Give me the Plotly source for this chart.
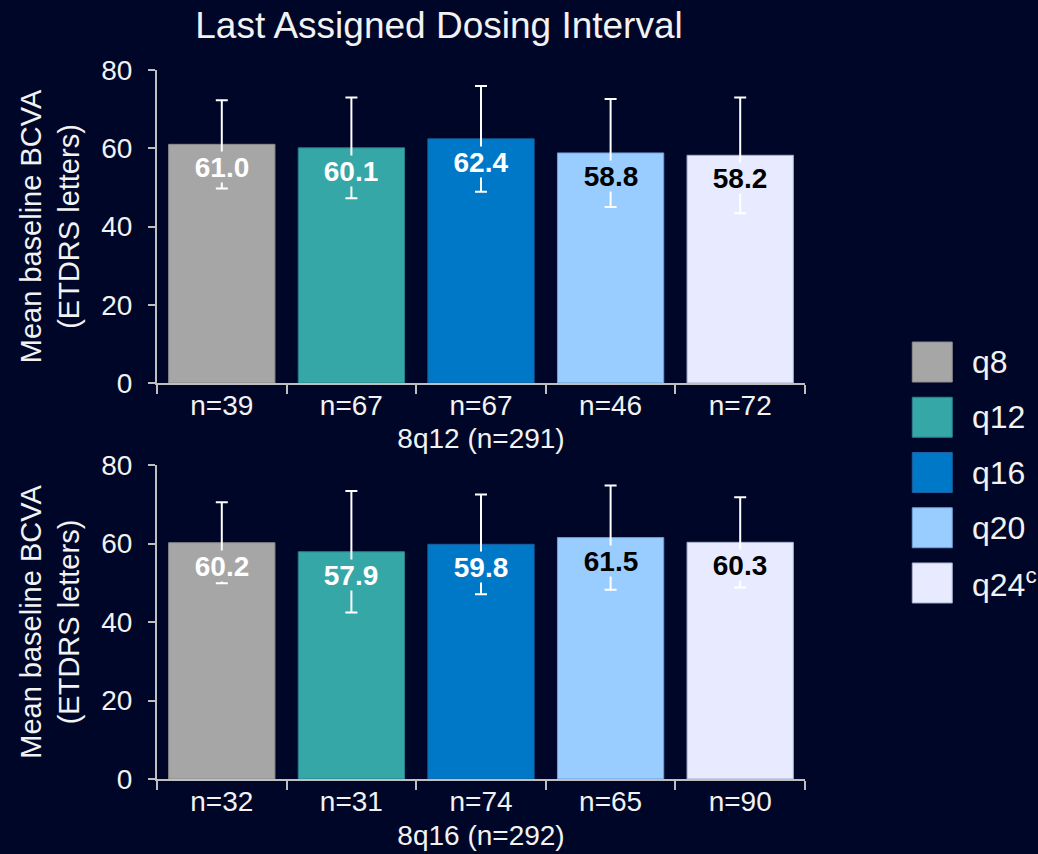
import plotly.graph_objects as go

# ---------------- data ----------------
categories = ["q8", "q12", "q16", "q20", "q24"]
legend_labels = ["q8", "q12", "q16", "q20", "q24<sup>c</sup>"]
n_8q12 = ["n=39", "n=67", "n=67", "n=46", "n=72"]
n_8q16 = ["n=32", "n=31", "n=74", "n=65", "n=90"]
mean_8q12 = [61.0, 60.1, 62.4, 58.8, 58.2]
sd_8q12 = [11.3, 12.9, 13.5, 13.8, 14.8]
mean_8q16 = [60.2, 57.9, 59.8, 61.5, 60.3]
sd_8q16 = [10.3, 15.5, 12.7, 13.3, 11.5]
group_titles = ["8q12 (n=291)", "8q16 (n=292)"]
y_ticks = [0, 20, 40, 60, 80]
chart_title = "Last Assigned Dosing Interval"

# ---------------- style ----------------
BG = "#000628"
FONT = "Liberation Sans, Arial, sans-serif"
TXT = "#f2f2f2"
AXIS = "#bfbfbf"
bar_colors = ["#a6a6a6", "#35a7a7", "#0078c8", "#99ccff", "#e8ebff"]
bar_edges = ["#8c8c8c", "#2b7f8f", "#1c5f9c", "#6f9fd0", "#a8b0cc"]
label_colors = ["#ffffff", "#ffffff", "#ffffff", "#000000", "#000000"]

fig = go.Figure()

panels = [
    ("x", "y", mean_8q12, sd_8q12, n_8q12, group_titles[0]),
    ("x2", "y2", mean_8q16, sd_8q16, n_8q16, group_titles[1]),
]

for xa, ya, means, sds, ns, gt in panels:
    fig.add_trace(go.Bar(
        x=categories, y=means, xaxis=xa, yaxis=ya,
        marker=dict(color=bar_colors, line=dict(color=bar_edges, width=1)),
        error_y=dict(type="data", array=sds, symmetric=True,
                     color="#ffffff", thickness=2, width=6),
        showlegend=False, hoverinfo="skip",
    ))
    for c, m, col, bc in zip(categories, means, label_colors, bar_colors):
        fig.add_annotation(
            x=c, y=m, xref=xa, yref=ya, text=f"<b>{m:.1f}</b>",
            showarrow=False, yanchor="middle", yshift=-23,
            font=dict(family=FONT, size=28, color=col),
            bgcolor=bc, borderpad=0, width=70, height=30,
        )

# legend built as markers on their own axes
fig.add_trace(go.Scatter(
    x=[0] * len(categories), y=categories, xaxis="x3", yaxis="y3",
    mode="markers",
    marker=dict(symbol="square", size=40, color=bar_colors,
                line=dict(color=bar_edges, width=1)),
    showlegend=False, hoverinfo="skip",
))
for c, lab in zip(categories, legend_labels):
    fig.add_annotation(
        x=0, y=c, xref="x3", yref="y3", text=lab, showarrow=False,
        xanchor="left", yanchor="middle", xshift=38,
        font=dict(family=FONT, size=32, color=TXT),
    )

xdom = [0, 648 / 881]
common_x = dict(
    type="category", range=[-0.5, 4.5], showline=True, linecolor=AXIS, linewidth=2,
    ticks="outside", tickson="boundaries", ticklen=9, tickwidth=2, tickcolor=AXIS,
    tickfont=dict(family=FONT, size=28, color=TXT), showgrid=False, zeroline=False,
    domain=xdom, ticklabelstandoff=-4,
)
common_y = dict(
    range=[0, 80], tickvals=y_ticks, showline=True, linecolor=AXIS, linewidth=2,
    ticks="outside", ticklen=7, tickwidth=2, tickcolor=AXIS, showgrid=False,
    zeroline=False, tickfont=dict(family=FONT, size=28, color=TXT),
    ticklabelstandoff=10,
    title=dict(text="Mean baseline BCVA<br>(ETDRS letters)",
               font=dict(family=FONT, size=29, color=TXT), standoff=13),
)

fig.update_layout(
    width=1038, height=854,
    paper_bgcolor=BG, plot_bgcolor=BG,
    margin=dict(l=157, r=0, t=70, b=75),
    bargap=0.18,
    title=dict(text=chart_title, x=439 / 1038, xanchor="center", y=1 - 25 / 854,
               yanchor="middle", font=dict(family=FONT, size=37, color=TXT)),
    xaxis=dict(common_x, anchor="y", tickvals=categories, ticktext=n_8q12,
               title=dict(text=group_titles[0], standoff=9,
                          font=dict(family=FONT, size=28, color=TXT))),
    yaxis=dict(common_y, anchor="x", domain=[(779 - 383) / 709, 1]),
    xaxis2=dict(common_x, anchor="y2", tickvals=categories, ticktext=n_8q16,
                title=dict(text=group_titles[1], standoff=10,
                           font=dict(family=FONT, size=28, color=TXT))),
    yaxis2=dict(common_y, anchor="x2", domain=[0, (779 - 465) / 709]),
    xaxis3=dict(domain=[0.80, 1.0], range=[-0.4, 0.6], visible=False),
    yaxis3=dict(domain=[(779 - 610.6) / 709, (779 - 334.4) / 709], type="category",
                categoryorder="array", categoryarray=categories,
                range=[4.5, -0.5], visible=False, anchor="x3"),
    showlegend=False,
)

fig.write_html(
    "out.html",
    config={"displayModeBar": False},
    post_script="document.body.style.margin='0';document.body.style.overflow='hidden';",
)
